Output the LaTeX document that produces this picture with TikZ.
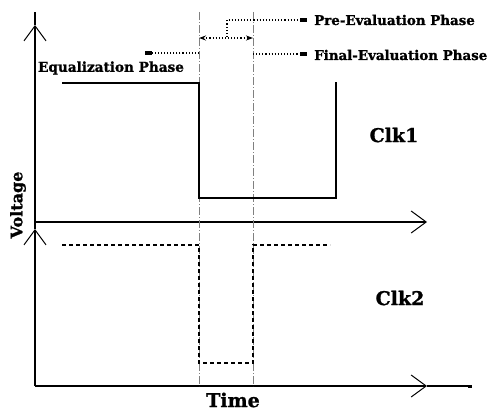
\documentclass[tikz,border=0pt]{standalone}
\usepackage{fontspec}
\setmainfont{DejaVu Serif}[BoldFeatures={FakeBold=1.2}]
\usetikzlibrary{arrows.meta}
\tikzset{
  axis/.style={line width=1.3pt, -{Straight Barb[length=15pt,width=22pt,line width=1pt]}},
  clkone/.style={line width=1.3pt},
  clktwo/.style={line width=1.2pt, dash pattern=on 4pt off 3pt},
  guide/.style={line width=0.4pt, gray, dash pattern=on 8pt off 2pt on 1pt off 2pt},
  phase/.style={line width=1.1pt, dotted, -{Rectangle[length=7pt,width=4pt]}},
  lbl/.style={font=\bfseries\fontsize{13.4}{16}\selectfont, inner sep=0pt},
  biglbl/.style={font=\bfseries\fontsize{19}{22}\selectfont, inner sep=0pt}
}
\begin{document}
\begin{tikzpicture}[x=1pt,y=-1pt]
\useasboundingbox (0,0) rectangle (494,412);

\coordinate (vtop) at (35,12);
\coordinate (vtip) at (35,25);
\coordinate (o1) at (35,222);
\coordinate (o2) at (35,386);
\coordinate (v2tip) at (35,229);
\coordinate (h1tip) at (427,222);
\coordinate (h2tip) at (427,386);
\coordinate (h2end) at (472,386);

\draw [axis] (o1) -- (vtip);
\draw [line width=1.3pt] (vtip) -- (vtop);
\draw [axis] (o2) -- (v2tip);
\draw [line width=1.3pt] (v2tip) -- (o1);
\draw [axis] (o1) -- (h1tip);
\draw [axis] (o2) -- (h2tip);
\draw [line width=1.3pt, -{Rectangle[length=4pt,width=3pt]}] (h2tip) -- (h2end);

\draw [guide] (199,12) coordinate (ga) -- (199,386) coordinate (gb);
\draw [guide] (253,12) coordinate (gc) -- (253,386) coordinate (gd);

\draw [clkone] (62,83) -- (199,83) -- (199,198) -- (336,198) -- (336,82);
\draw [clktwo] (62,245) -- (199,245) -- (199,363) -- (253,363) -- (253,245) -- (330,245);

\coordinate (prestart) at (227,37);
\coordinate (precorner) at (227,20);
\coordinate (preend) at (307,20);
\coordinate (evala) at (199,38);
\coordinate (evalb) at (253,38);
\coordinate (finstart) at (253,54);
\coordinate (finend) at (307,54);
\coordinate (eqstart) at (199,53);
\coordinate (eqend) at (145,53);

\draw [phase] (prestart) -- (precorner) -- (preend);
\draw [line width=1.1pt, dotted, {Stealth[length=7pt,width=5pt]}-{Stealth[length=7pt,width=5pt]}] (evala) -- (evalb);
\draw [phase] (finstart) -- (finend);
\draw [phase] (eqstart) -- (eqend);

\node [lbl, anchor=west] (pre) at (314,20) {Pre-Evaluation Phase};
\node [lbl, anchor=west] (fin) at (314,55) {Final-Evaluation Phase};
\node [lbl, font=\bfseries\fontsize{13.6}{16}\selectfont] (eq) at (111,68) {Equalization Phase};
\node [biglbl] (clka) at (394,135) {Clk1};
\node [biglbl] (clkb) at (400,298) {Clk2};
\node [biglbl] (time) at (233,400) {Time};
\node [biglbl, font=\bfseries\fontsize{16}{18}\selectfont, rotate=90] (volt) at (18,205) {Voltage};

\end{tikzpicture}
\end{document}
